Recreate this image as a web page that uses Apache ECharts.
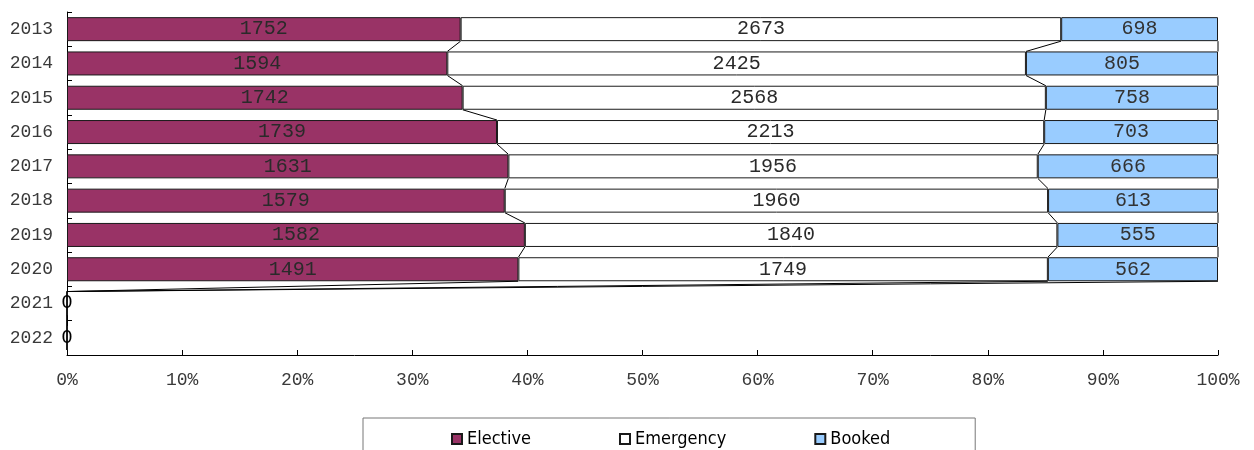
<!DOCTYPE html>
<html>
<head>
<meta charset="utf-8">
<script src="https://cdn.jsdelivr.net/npm/echarts@6/dist/echarts.min.js"></script>
<style>html,body{margin:0;padding:0;background:#fff;}#c{width:1254px;height:450px;}</style>
</head>
<body>
<div id="c"></div>
<script>
var categories = ['2013','2014','2015','2016','2017','2018','2019','2020','2021','2022'];
var elective  = [1752,1594,1742,1739,1631,1579,1582,1491,0,0];
var emergency = [2673,2425,2568,2213,1956,1960,1840,1749,0,0];
var booked    = [698,805,758,703,666,613,555,562,0,0];
var xTickLabels = ['0%','10%','20%','30%','40%','50%','60%','70%','80%','90%','100%'];

var raw = [elective, emergency, booked];
var totals = categories.map(function(_, i){ return elective[i] + emergency[i] + booked[i]; });
function pct(arr){ return arr.map(function(v, i){ return totals[i] ? v / totals[i] * 100 : 0; }); }
var pcts = raw.map(pct);

// cumulative boundaries for series lines
var cum = categories.map(function(_, i){
  var a = pcts[0][i], b = a + pcts[1][i], c = b + pcts[2][i];
  return [a, b, c];
});
var lineData = [];
for (var i = 0; i < categories.length - 1; i++) {
  lineData.push([i, cum[i][0], cum[i][1], cum[i][2], cum[i+1][0], cum[i+1][1], cum[i+1][2]]);
}

var mono = '"Liberation Mono", "Courier New", monospace';
var BAR_RATIO = 0.7;

function makeSeries(name, color, idx, labelColor){
  return {
    name: name,
    type: 'bar',
    stack: 'total',
    barWidth: (BAR_RATIO * 100) + '%',
    itemStyle: { color: color, borderColor: '#1a1a1a', borderWidth: 1 },
    data: pcts[idx].map(function(v, i){
      var item = { value: v };
      if (totals[i] === 0) {
        if (idx === 0) {
          item.label = { show: true, fontFamily: '"DejaVu Sans", sans-serif', fontSize: 18, color: '#000' };
        } else {
          item.label = { show: false };
        }
      }
      return item;
    }),
    label: {
      show: true,
      position: 'inside',
      fontFamily: mono,
      fontSize: 20,
      color: labelColor,
      formatter: function(p){ return String(raw[idx][p.dataIndex]); }
    },
    emphasis: { disabled: true }
  };
}

var chart = echarts.init(document.getElementById('c'), null, { renderer: 'canvas' });
chart.setOption({
  animation: false,
  grid: { left: 67, right: 36, top: 12, bottom: 95, containLabel: false },
  xAxis: {
    type: 'value', min: 0, max: 100, interval: 10,
    axisLine: { show: true, lineStyle: { color: '#000', width: 1 } },
    axisTick: { show: true, inside: true, length: 5, lineStyle: { color: '#000' } },
    splitLine: { show: false },
    axisLabel: {
      margin: 16, fontFamily: mono, fontSize: 18, color: '#3a3a3a',
      formatter: function(v){ return xTickLabels[Math.round(v / 10)]; }
    }
  },
  yAxis: {
    type: 'category', inverse: true, data: categories,
    axisLine: { show: true, lineStyle: { color: '#000', width: 1 } },
    axisTick: { show: true, inside: true, length: 5, lineStyle: { color: '#000' } },
    axisLabel: { margin: 14, fontFamily: mono, fontSize: 18, color: '#3a3a3a' }
  },
  legend: {
    data: ['Elective', 'Emergency', 'Booked'],
    left: 363, top: 418,
    padding: [12, 85, 12, 88],
    itemWidth: 10, itemHeight: 10, itemGap: 88,
    borderColor: '#777', borderWidth: 1,
    icon: 'rect',
    textStyle: { fontFamily: '"DejaVu Sans Condensed", "DejaVu Sans", sans-serif', fontSize: 18, color: '#000' },
    selectedMode: false
  },
  series: [
    makeSeries('Elective', '#993366', 0, '#2a2a2a'),
    makeSeries('Emergency', '#ffffff', 1, '#2a2a2a'),
    makeSeries('Booked', '#99ccff', 2, '#333'),
    {
      type: 'custom',
      name: 'seriesLines',
      z: 5,
      silent: true,
      encode: { x: [1, 2, 3, 4, 5, 6], y: 0 },
      data: lineData,
      renderItem: function(params, api){
        var idx = api.value(0);
        var half = api.size([0, 1])[1] * BAR_RATIO / 2;
        var children = [];
        for (var k = 0; k < 3; k++) {
          var p1 = api.coord([api.value(1 + k), idx]);
          var p2 = api.coord([api.value(4 + k), idx + 1]);
          children.push({
            type: 'line',
            shape: { x1: p1[0], y1: p1[1] + half, x2: p2[0], y2: p2[1] - half },
            style: { stroke: '#000', lineWidth: 1 }
          });
        }
        return { type: 'group', children: children };
      }
    }
  ]
});
</script>
</body>
</html>
